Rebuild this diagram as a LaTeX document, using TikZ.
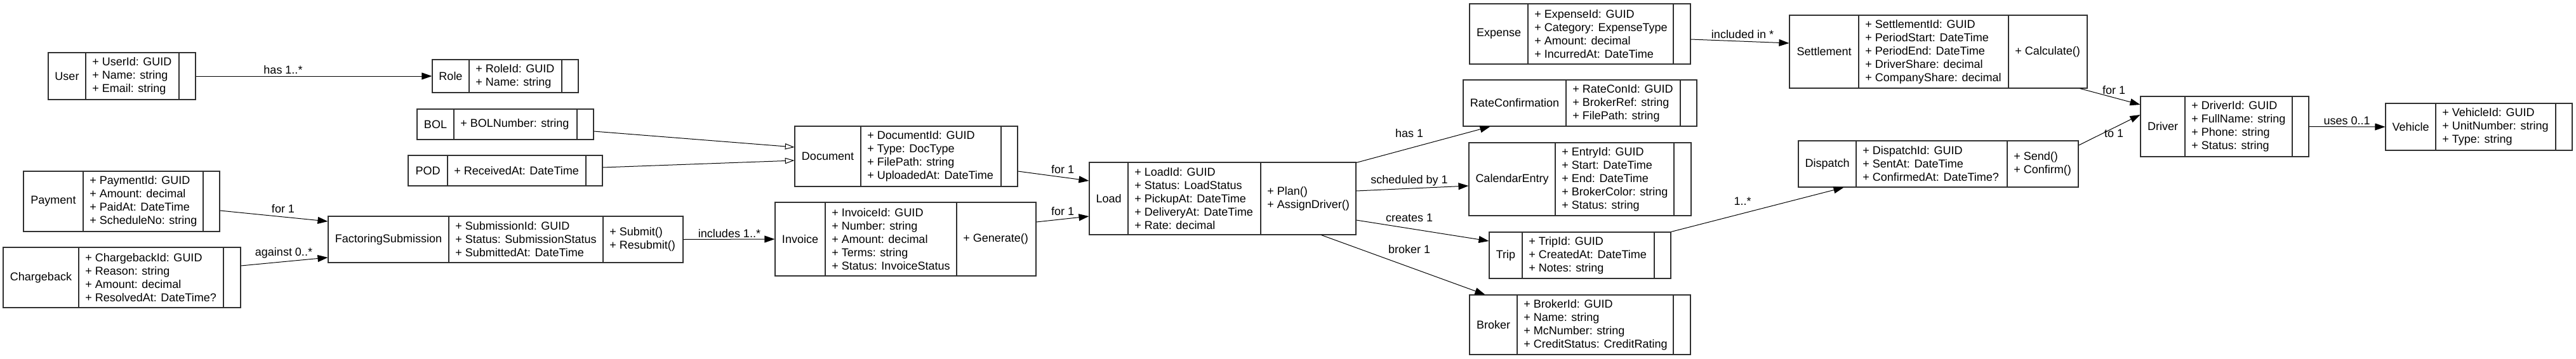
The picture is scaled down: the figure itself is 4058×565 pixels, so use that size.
\documentclass[tikz,border=0pt]{standalone}
\usepackage{fontspec}
\setmainfont{Liberation Sans}
\usetikzlibrary{arrows.meta,fit,calc}
\definecolor{linegray}{HTML}{303030}
\tikzset{
  classbox/.style={draw=linegray, line width=0.85pt, inner sep=0pt, rectangle},
  divider/.style={draw=linegray, line width=0.85pt},
  txt/.style={inner sep=0pt, font=\fontsize{13.5}{15.75}\selectfont},
  attrtext/.style={txt, align=left, anchor=west},
  titletext/.style={txt},
  assoc/.style={draw=black, line width=0.75pt, -{Triangle[length=12pt,width=8.2pt]}},
  inherit/.style={draw=black, line width=0.75pt, -{Triangle[open,length=11pt,width=7pt,fill=white]}},
  lbl/.style={txt},
}
% name, x1, y1, x2, y2, d1, d2, title, attributes
\newcommand{\umlclass}[9]{%
  \node[classbox, fit={(#2,#3) (#4,#5)}] (#1) {};
  \draw[divider] (#6,#3) -- (#6,#5);
  \draw[divider] (#7,#3) -- (#7,#5);
  \node[titletext] (#1-title) at ({(#2+#6)/2},{(#3+#5)/2}) {#8};
  \node[attrtext] (#1-attrs) at ({#6+10},{(#3+#5)/2}) {#9};
}
% name, d2, ycenter, methods
\newcommand{\umlmethods}[4]{%
  \node[attrtext] (#1-methods) at ({#2+10},#3) {#4};
}
\begin{document}
\begin{tikzpicture}[x=0.75pt,y=-0.75pt]
\useasboundingbox (0,0) rectangle (4058,565);

\umlclass{user}{76}{83}{308}{157}{135}{282}{User}{+ UserId: GUID\\+ Name: string\\+ Email: string}
\umlclass{role}{681}{94}{911}{146}{739}{885}{Role}{+ RoleId: GUID\\+ Name: string}
\umlclass{bol}{657}{172}{935}{220}{715}{909}{BOL}{+ BOLNumber: string}
\umlclass{pod}{643}{245}{949}{293}{705}{923}{POD}{+ ReceivedAt: DateTime}
\umlclass{payment}{37}{270}{346}{365}{131}{320}{Payment}{+ PaymentId: GUID\\+ Amount: decimal\\+ PaidAt: DateTime\\+ ScheduleNo: string}
\umlclass{chargeback}{5}{390}{379}{485}{124}{352}{Chargeback}{+ ChargebackId: GUID\\+ Reason: string\\+ Amount: decimal\\+ ResolvedAt: DateTime?}
\umlclass{fs}{517}{341}{1076}{414}{707}{950}{FactoringSubmission}{+ SubmissionId: GUID\\+ Status: SubmissionStatus\\+ SubmittedAt: DateTime}
\umlmethods{fs}{950}{377.5}{+ Submit()\\+ Resubmit()}
\umlclass{invoice}{1221}{319}{1632}{435}{1300}{1507}{Invoice}{+ InvoiceId: GUID\\+ Number: string\\+ Amount: decimal\\+ Terms: string\\+ Status: InvoiceStatus}
\umlmethods{invoice}{1507}{377}{+ Generate()}
\umlclass{document}{1252}{199}{1603}{294}{1356}{1577}{Document}{+ DocumentId: GUID\\+ Type: DocType\\+ FilePath: string\\+ UploadedAt: DateTime}
\umlclass{load}{1716}{256}{2136}{370}{1777}{1986}{Load}{+ LoadId: GUID\\+ Status: LoadStatus\\+ PickupAt: DateTime\\+ DeliveryAt: DateTime\\+ Rate: decimal}
\umlmethods{load}{1986}{313}{+ Plan()\\+ AssignDriver()}
\umlclass{expense}{2315}{6}{2663}{101}{2407}{2636}{Expense}{+ ExpenseId: GUID\\+ Category: ExpenseType\\+ Amount: decimal\\+ IncurredAt: DateTime}
\umlclass{rc}{2305}{126}{2673}{199}{2467}{2647}{RateConfirmation}{+ RateConId: GUID\\+ BrokerRef: string\\+ FilePath: string}
\umlclass{calendar}{2314}{225}{2664}{340}{2450}{2637}{CalendarEntry}{+ EntryId: GUID\\+ Start: DateTime\\+ End: DateTime\\+ BrokerColor: string\\+ Status: string}
\umlclass{trip}{2346}{366}{2632}{439}{2398}{2606}{Trip}{+ TripId: GUID\\+ CreatedAt: DateTime\\+ Notes: string}
\umlclass{broker}{2315}{465}{2663}{559}{2390}{2636}{Broker}{+ BrokerId: GUID\\+ Name: string\\+ McNumber: string\\+ CreditStatus: CreditRating}
\umlclass{settlement}{2819}{24}{3288}{139}{2928}{3164}{Settlement}{+ SettlementId: GUID\\+ PeriodStart: DateTime\\+ PeriodEnd: DateTime\\+ DriverShare: decimal\\+ CompanyShare: decimal}
\umlmethods{settlement}{3164}{81.5}{+ Calculate()}
\umlclass{dispatch}{2833}{222}{3274}{295}{2924}{3162}{Dispatch}{+ DispatchId: GUID\\+ SentAt: DateTime\\+ ConfirmedAt: DateTime?}
\umlmethods{dispatch}{3162}{258.5}{+ Send()\\+ Confirm()}
\umlclass{driver}{3372}{152}{3637}{247}{3442}{3611}{Driver}{+ DriverId: GUID\\+ FullName: string\\+ Phone: string\\+ Status: string}
\umlclass{vehicle}{3758}{163}{4052}{237}{3837}{4026}{Vehicle}{+ VehicleId: GUID\\+ UnitNumber: string\\+ Type: string}

% connectors
\draw[assoc] (user.east) -- (role.west);
\draw[inherit] ($(bol.east)+(0,11)$) -- ($(document.west)+(0,-14.5)$);
\draw[inherit] ($(pod.east)+(0,-5)$) -- ($(document.west)+(0,6.5)$);
\draw[assoc] (fs.east) -- (invoice.west);
\draw[assoc] ($(payment.east)+(0,14.5)$) -- ($(fs.west)+(0,-28.5)$);
\draw[assoc] ($(chargeback.east)+(0,-18.5)$) -- ($(fs.west)+(0,28.5)$);
\draw[assoc] ($(document.east)+(0,23.5)$) -- ($(load.west)+(0,-28)$);
\draw[assoc] ($(invoice.east)+(0,-27)$) -- ($(load.west)+(0,28)$);
\draw[assoc] ($(load.north east)+(0,1)$) -- ($(rc.south west)+(43,0)$);
\draw[assoc] ($(load.east)+(0,-12)$) -- ($(calendar.west)+(0,10.5)$);
\draw[assoc] ($(load.east)+(0,34)$) -- ($(trip.west)+(0,-22.5)$);
\draw[assoc] ($(load.south west)+(366,0)$) -- ($(broker.north west)+(25,0)$);
\draw[assoc] ($(expense.east)+(0,8.5)$) -- ($(settlement.west)+(0,-13.5)$);
\draw[assoc] (trip.north east) -- ($(dispatch.south west)+(72,0)$);
\draw[assoc] ($(settlement.south east)+(-12,0)$) -- ($(driver.west)+(0,-34.5)$);
\draw[assoc] ($(dispatch.east)+(0,-29.5)$) -- ($(driver.west)+(0,-18.5)$);
\draw[assoc] (driver.east) -- (vehicle.west);

% labels
\node[lbl] (l-has) at (446,110) {has 1..*};
\node[lbl] (l-payfor) at (446,329) {for 1};
\node[lbl] (l-against) at (447,399) {against 0..*};
\node[lbl] (l-includes) at (1149,368) {includes 1..*};
\node[lbl] (l-docfor) at (1674,267) {for 1};
\node[lbl] (l-invfor) at (1674,333) {for 1};
\node[lbl] (l-has1) at (2220,210) {has 1};
\node[lbl] (l-sched) at (2220,285) {scheduled by 1};
\node[lbl] (l-creates) at (2220,343) {creates 1};
\node[lbl] (l-broker) at (2220,393) {broker 1};
\node[lbl] (l-included) at (2745,54) {included in *};
\node[lbl] (l-trip) at (2745,317) {1..*};
\node[lbl] (l-setfor) at (3330,142) {for 1};
\node[lbl] (l-to) at (3330,210) {to 1};
\node[lbl] (l-uses) at (3697,190) {uses 0..1};
\end{tikzpicture}
\end{document}
